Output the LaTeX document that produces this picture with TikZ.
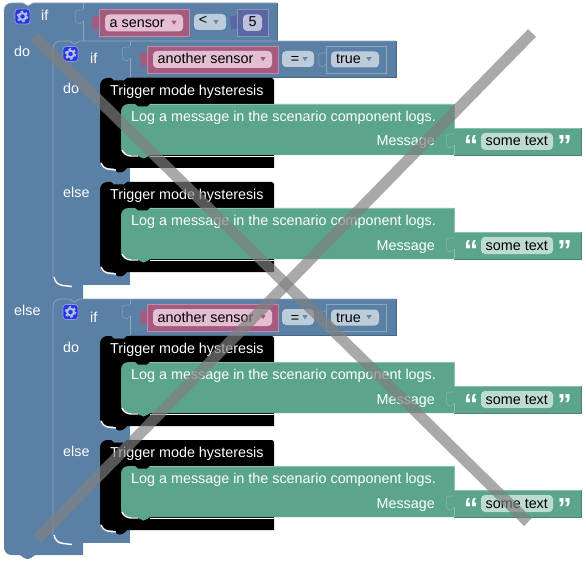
\documentclass[tikz,border=0pt]{standalone}
\usepackage{fontspec}
\setmainfont{Liberation Sans}
\definecolor{logicblue}{HTML}{5B80A5}
\definecolor{logicedge}{HTML}{8CA6C0}
\definecolor{logicdark}{HTML}{496684}
\definecolor{logicfield}{HTML}{BDCCDB}
\definecolor{sensorpink}{HTML}{A55B80}
\definecolor{sensoredge}{HTML}{C08CA6}
\definecolor{sensorfield}{HTML}{E4BFD2}
\definecolor{numpurple}{HTML}{5B67A5}
\definecolor{numedge}{HTML}{8C95C0}
\definecolor{numfield}{HTML}{BDC2DB}
\definecolor{loggreen}{HTML}{5BA58C}
\definecolor{logedge}{HTML}{8CC0AE}
\definecolor{logdark}{HTML}{498470}
\definecolor{logfield}{HTML}{BDDBD1}
\definecolor{gearblue}{HTML}{2A35E0}
\definecolor{gearlight}{HTML}{B4C4F2}
\tikzset{
  lbl/.style={inner sep=0pt,anchor=base west,text=white,font=\fontsize{14.35}{16}\selectfont},
  lblblack/.style={lbl,text=black},
  lblmid/.style={lblblack,anchor=base},
  lblright/.style={lbl,anchor=base east},
  quotemark/.style={inner sep=0pt,anchor=base,text=white,font=\fontsize{29}{29}\selectfont\bfseries\rmfamily},
  slotline/.style={line width=0.6pt,opacity=0.75},
  glint/.style={white,line width=1.4pt},
  crossbar/.style={gray,opacity=0.68,line width=11pt}
}
% Puzzle outline on an input
\newcommand{\slotmark}[3]{%
  \draw [slotline,#3] (#1,#2+1) -- (#1-3.5,#2+1) .. controls (#1-8,#2+1) and (#1-8,#2+3) .. (#1-8,#2+6)
    .. controls (#1-7,#2+8) .. (#1-8,#2+10) .. controls (#1-8,#2+13) and (#1-6,#2+15) .. (#1-3,#2+15) -- (#1,#2+12);%
}
% Gear button
\newcommand{\gearbox}[3]{%
  \node (#3) [draw=gearlight!70!gearblue,fill=gearblue,rounded corners=3pt,line width=0.8pt,
    minimum width=15pt,minimum height=15pt,inner sep=0pt] at (#1,#2) {};%
  \draw [gearlight,line width=1.9pt] (#1,#2) circle (3.4);%
  \draw [gearlight,line width=1.4pt,dash pattern=on 2.6pt off 2.85pt] (#1,#2) circle (5.2);%
}
% Dropdown arrow
\newcommand{\droparrow}[3]{%
  \fill [#3] (#1-2.6,#2-1.8) -- (#1+2.6,#2-1.8) -- (#1,#2+2.2) -- cycle;%
}
% Logic field with an arrow
\newcommand{\opfield}[5]{%
  \fill [logicfield] [rounded corners=4pt] (#1,#2) rectangle (#3,#2+16);%
  \node (#5) [lblmid] at (#1+13,#2+13) {#4};%
  \droparrow{#3-9}{#2+8}{logicdark!80!white}%
}
% Sensor value
\newcommand{\sensorvalue}[5]{%
  \fill [sensorpink] (#1-7,#2+7) .. controls (#1-4,#2+8) .. (#1,#2+6) -- (#1,#2+20) .. controls (#1-4,#2+19) .. (#1-6,#2+22)
    .. controls (#1-5,#2+17) and (#1-8,#2+12) .. cycle;%
  \draw [sensoredge,fill=sensorpink,line width=0.8pt] (#1,#2) rectangle (#3,#2+27);%
  \fill [sensorfield,rounded corners=4pt] (#1+6,#2+5) rectangle (#3-6,#2+22);%
  \node (#5) [lblblack] at (#1+10.5,#2+18) {#4};%
  \droparrow{#3-15}{#2+13}{sensorpink}%
}
% Boolean value
\newcommand{\truevalue}[3]{%
  \draw [logicedge,line width=0.7pt] (326,#1+46) rectangle (386,#1+73);%
  \fill [logicfield,rounded corners=4pt] (331,#1+51.5) rectangle (379,#1+67.5);%
  \node (#2) [lblblack] at (336,#1+64) {#3};%
  \droparrow{369}{#1+59}{logicdark!80!white}%
  \slotmark{326}{#1+52}{logicedge}%
}
% Trigger block with its log block
\newcommand{\triggerblock}[1]{%
  \fill [black] (100,#1+86) .. controls (100,#1+81) and (103,#1+78) .. (108,#1+78) -- (111,#1+78) -- (114,#1+80.5)
    -- (124,#1+80.5) -- (127,#1+78) -- (272,#1+78) -- (274,#1+80) -- (274,#1+168) -- (130,#1+168) -- (127,#1+168)
    -- (124,#1+171) .. controls (121,#1+173) and (119,#1+173) .. (116,#1+171) -- (113,#1+168) -- (108,#1+168)
    .. controls (103,#1+168) and (100,#1+165) .. (100,#1+160) -- cycle;%
  \draw [glint] (101,#1+163) .. controls (103,#1+167) and (105,#1+169) .. (111,#1+169.5) -- (116,#1+170);%
  \node (trig#1) [lbl] at (110,#1+95.5) {Trigger mode hysteresis};%
  % Drawing value input
  \fill [loggreen] (454,#1+128) -- (581,#1+128) -- (581,#1+155) -- (454,#1+155) -- cycle;%
  \draw [logedge,line width=0.7pt] (454,#1+128.3) -- (581,#1+128.3);%
  \draw [logdark,line width=0.7pt] (581,#1+128.3) -- (581,#1+155) -- (454,#1+155);%
  \fill [logfield,rounded corners=4pt] (481,#1+133) rectangle (553,#1+150);%
  \node (text#1) [lblblack] at (485.5,#1+146) {some text};%
  \node (opq#1) [quotemark] at (471,#1+156) {“};%
  \node (clq#1) [quotemark] at (564.5,#1+156) {”};%
  % Drawing log block
  \fill [loggreen] (121,#1+112) .. controls (121,#1+107) and (124,#1+104) .. (129,#1+104) -- (135,#1+104) -- (138,#1+106.5)
    -- (147,#1+106.5) -- (150,#1+104) -- (454,#1+104) -- (454,#1+155) -- (150,#1+155) -- (147,#1+157)
    .. controls (145,#1+159) and (142,#1+159) .. (140,#1+157) -- (137,#1+155) -- (129,#1+155)
    .. controls (124,#1+155) and (121,#1+152) .. (121,#1+147) -- cycle;%
  \draw [glint] (122,#1+150) .. controls (124,#1+154) and (126,#1+155.5) .. (131,#1+156) -- (138,#1+156);%
  \draw [white,line width=0.8pt] (150,#1+156) -- (274,#1+156);%
  \draw [logedge,line width=0.7pt] (150,#1+104.3) -- (454,#1+104.3);%
  \draw [logedge,line width=0.7pt] (454,#1+104.3) -- (454,#1+128);%
  \slotmark{454}{#1+133}{logedge}%
  \draw [logedge,line width=0.7pt] (454,#1+145) -- (454,#1+155);%
  \node (log#1) [lbl] at (131,#1+121.5) {Log a message in the scenario component logs.};%
  \node (msg#1) [lblright] at (435,#1+146) {Message};%
}
% Inner condition block
\newcommand{\ifblock}[2]{%
  \fill [logicblue] (53,#1+41) rectangle (396,#1+77);%
  \fill [logicblue] (53,#1+77) rectangle (130,#1+285);%
  \draw [logicedge,line width=0.7pt] (53,#1+277) -- (53,#1+49) .. controls (53,#1+44) and (56,#1+41) .. (61,#1+41)
    -- (70,#1+41) -- (74,#1+44) -- (80,#1+41) -- (396,#1+41);%
  \draw [logicdark,line width=0.7pt] (396,#1+41) -- (396,#1+77) -- (130,#1+77);%
  \draw [logicedge,line width=0.7pt] (130,#1+41) -- (130,#1+46);%
  \slotmark{130}{#1+46}{logicedge}%
  \draw [logicedge,line width=0.7pt] (130,#1+58) -- (130,#1+77);%
  \draw [glint] (54,#1+277) .. controls (55,#1+282) and (58,#1+285) .. (63,#1+285.5) -- (72,#1+286.5);%
  \gearbox{70.5}{#1+54}{gear#1}%
  \node (if#1) [lbl] at (90,#1+64) {if};%
  \node (do#1) [lbl] at (63,#1+94) {do};%
  \node (else#1) [lbl] at (63,#1+198) {else};%
  \sensorvalue{147}{#1+46}{278}{another sensor}{sens#1}%
  \opfield{282}{#1+51}{314}{=}{opr#1}%
  \truevalue{#1}{bool#1}{true}%
  \triggerblock{#1}%
  \triggerblock{#2}%
}
\begin{document}
\begin{tikzpicture}[x=1pt,y=-1pt]
\useasboundingbox (0,0) rectangle (586,564);

% Drawing outer block
\fill [logicblue] (4,11) .. controls (4,6) and (7,3) .. (12,3) -- (23,3) -- (28,6) -- (33,3) -- (277,3)
  -- (277,41) -- (83,41) -- (83,555) -- (35,555) -- (31,558) .. controls (29,559.5) and (26,559.5) .. (24,558)
  -- (20,555) -- (12,555) .. controls (7,555) and (4,552) .. (4,547) -- cycle;
\draw [logicedge,line width=0.7pt] (4,11) .. controls (4,6) and (7,3) .. (12,3) -- (23,3) -- (28,6) -- (33,3) -- (277,3);
\draw [logicdark,line width=0.7pt] (277,3) -- (277,41) -- (83,41);
\draw [logicedge,line width=0.7pt] (83,3) -- (83,9);
\slotmark{83}{9}{logicedge}
\draw [logicedge,line width=0.7pt] (83,21) -- (83,41);

\gearbox{22.5}{16.5}{geartop}
\node (iftop) [lbl] at (41,21) {if};
\node (dotop) [lbl] at (14,57) {do};
\node (elsetop) [lbl] at (14,315) {else};

% Drawing first condition
\sensorvalue{99}{9.5}{189}{a sensor}{senstop}
\fill [logicfield,rounded corners=4pt] (194,14) rectangle (226,30);
\node (optop) [lblmid] at (203,25) {<};
\droparrow{216}{22}{logicdark!80!white}
\fill [numpurple] (230,16) .. controls (233,17) .. (237,15) -- (237,29) .. controls (233,28) .. (231,31)
  .. controls (232,26) and (229,21) .. cycle;
\draw [numedge,fill=numpurple,line width=0.8pt] (237,9.5) rectangle (268,36);
\fill [numfield,rounded corners=4pt] (243,14.5) rectangle (262,31);
\node (numtop) [lblmid] at (252.5,27) {5};

% Drawing inner blocks
\ifblock{0}{104}
\ifblock{258}{362}

% Drawing crossing bars
\coordinate (cra) at (34.5,37);
\coordinate (crb) at (528,522);
\coordinate (crc) at (532,33);
\coordinate (crd) at (37,539);
\draw [crossbar] (cra) -- (crb);
\draw [crossbar] (crc) -- (crd);
\end{tikzpicture}
\end{document}
